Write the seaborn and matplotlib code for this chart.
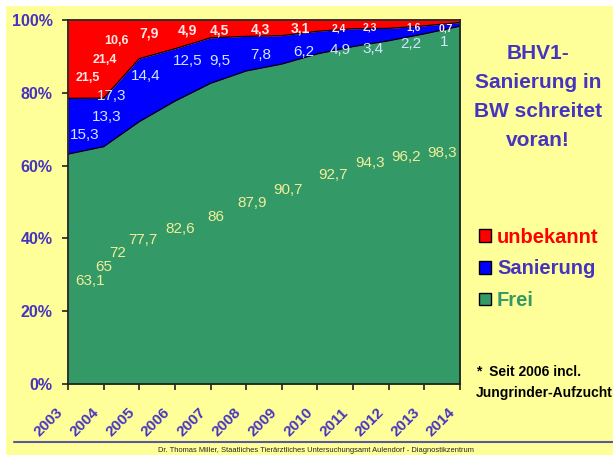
import numpy as np
import pandas as pd
import matplotlib
matplotlib.use("Agg")
import matplotlib.pyplot as plt
import matplotlib.transforms as mtransforms
import seaborn as sns
from matplotlib.patches import Rectangle, Patch
from matplotlib.lines import Line2D

# data (percent of herds)
years = [2003, 2004, 2005, 2006, 2007, 2008, 2009, 2010, 2011, 2012, 2013, 2014]
frei = [63.1, 65, 72, 77.7, 82.6, 86, 87.9, 90.7, 92.7, 94.3, 96.2, 98.3]
sanierung = [15.3, 13.3, 17.3, 14.4, 12.5, 9.5, 7.8, 6.2, 4.9, 3.4, 2.2, 1]
unbekannt = [21.5, 21.4, 10.6, 7.9, 4.9, 4.5, 4.3, 3.1, 2.4, 2.3, 1.6, 0.7]

# where the value labels sit (x in category units, y in percent)
frei_lab_x = [0.62, 1.01, 1.40, 2.10, 3.15, 4.16, 5.17, 6.18, 7.44, 8.48, 9.50, 10.50]
frei_lab_y = [28.4, 32.2, 36.0, 39.5, 42.7, 46.0, 49.6, 53.2, 57.3, 60.6, 62.3, 63.4]
san_lab_x = [0.48, 1.09, 1.23, 2.19, 3.36, 4.25, 5.42, 6.63, 7.64, 8.56, 9.63, 10.56]
san_lab_y = [68.3, 73.3, 79.0, 84.6, 88.7, 88.7, 90.4, 91.2, 91.7, 92.0, 93.4, 93.9]
unb_lab_x = [0.56, 1.04, 1.37, 2.28, 3.34, 4.25, 5.39, 6.52, 7.60, 8.48, 9.70, 10.60]
unb_lab_y = [84.0, 89.0, 94.2, 96.4, 97.2, 97.2, 97.5, 97.8, 97.8, 98.0, 98.0, 97.8]
unb_lab_size = [9, 9, 9, 10, 10, 10, 10, 10, 7.5, 7.5, 7.5, 7.5]

GREEN = "#339966"
BLUE = "#0000FF"
RED = "#FF0000"
INK = "#4634C0"
BG = "#FFFF99"

sns.set_style("ticks")
plt.rcParams["font.family"] = ["Liberation Sans", "DejaVu Sans"]

df = pd.DataFrame({"Jahr": years, "Frei": frei, "Sanierung": sanierung, "unbekannt": unbekannt})
total = df[["Frei", "Sanierung", "unbekannt"]].sum(axis=1)
df["c1"] = df["Frei"] / total * 100
df["c2"] = (df["Frei"] + df["Sanierung"]) / total * 100
df["c3"] = 100.0
df["x"] = np.arange(len(df))

fig = plt.figure(figsize=(6.13, 4.57), dpi=100, facecolor="white")
fig.patches.append(Rectangle((6 / 613, 2 / 457), 1, 1 - 8 / 457, transform=fig.transFigure,
                             facecolor=BG, edgecolor="none", zorder=-10))

ax = fig.add_axes([68 / 613, 1 - 384 / 457, 392 / 613, 364 / 457])
ax.fill_between(df["x"], 0, df["c1"], color=GREEN, lw=0)
ax.fill_between(df["x"], df["c1"], df["c2"], color=BLUE, lw=0)
ax.fill_between(df["x"], df["c2"], df["c3"], color=RED, lw=0)
sns.lineplot(data=df, x="x", y="c1", color="black", lw=0.9, ax=ax)
sns.lineplot(data=df, x="x", y="c2", color="black", lw=0.9, ax=ax)

ax.set_xlim(0, len(df) - 1)
ax.set_ylim(0, 100)
ax.set_xlabel("")
ax.set_ylabel("")
for s in ax.spines.values():
    s.set_visible(True)
    s.set_color("#222222")
    s.set_linewidth(1.3)

ax.set_yticks(range(0, 101, 20))
ax.set_yticklabels([f"{v}%" for v in range(0, 101, 20)], fontsize=11.5,
                   fontweight="bold", color=INK)
ax.set_xticks(df["x"])
ax.set_xticklabels([str(y) for y in years], fontsize=11, fontweight="bold", color=INK,
                   rotation=45, ha="right", va="center", rotation_mode="anchor")
ax.tick_params(axis="y", direction="out", length=4, width=1.2, color="#222222", pad=7)
ax.tick_params(axis="x", direction="out", length=4, width=1.2, color="#222222", pad=15)
shift = mtransforms.ScaledTranslation(-7 / 100, 0, fig.dpi_scale_trans)
for lab in ax.get_xticklabels():
    lab.set_transform(lab.get_transform() + shift)

# value labels
for v, lx, ly in zip(frei, frei_lab_x, frei_lab_y):
    ax.text(lx, ly, f"{v:g}".replace(".", ","), color="#F2EE9A", fontsize=11,
            ha="center", va="center")
for v, lx, ly in zip(sanierung, san_lab_x, san_lab_y):
    ax.text(lx, ly, f"{v:g}".replace(".", ","), color="#D2E6FF", fontsize=11,
            ha="center", va="center")
for v, lx, ly, fs in zip(unbekannt, unb_lab_x, unb_lab_y, unb_lab_size):
    ax.text(lx, ly, f"{v:g}".replace(".", ","), color="#FFE8E8", fontsize=fs,
            fontweight="bold", ha="center", va="center")

# title on the right
fig.text(538 / 613, 1 - 97 / 457, "BHV1-\nSanierung in\nBW schreitet\nvoran!",
         ha="center", va="center", fontsize=15, fontweight="bold", color=INK, linespacing=1.65)

# legend
handles = [Patch(facecolor=RED, edgecolor="black", lw=1),
           Patch(facecolor=BLUE, edgecolor="black", lw=1),
           Patch(facecolor=GREEN, edgecolor="black", lw=1)]
fig.legend(handles, ["unbekannt", "Sanierung", "Frei"], loc="center left",
           bbox_to_anchor=(479 / 613, 1 - 269 / 457), frameon=False,
           prop={"size": 14.5, "weight": "bold"}, labelcolor=[RED, INK, GREEN],
           handlelength=0.6, handleheight=0.6, handletextpad=0.3,
           labelspacing=0.63, borderpad=0, borderaxespad=0)

# footnote
fig.text(476 / 613, 1 - 365 / 457, "*  Seit 2006 incl.\nJungrinder-Aufzucht", ha="left", va="top",
         fontsize=10, fontweight="bold", color="black", linespacing=1.6)

# footer
fig.add_artist(Line2D([14 / 613, 1], [1 - 442 / 457] * 2, color="#5A5A9A", lw=1.5,
                      transform=fig.transFigure))
fig.text(316 / 613, 1 - 450 / 457,
         "Dr. Thomas Miller, Staatliches Tierärztliches Untersuchungsamt Aulendorf - Diagnostikzentrum",
         ha="center", va="center", fontsize=5.4, color="#222222")

fig.savefig("out.png", dpi=100, facecolor=fig.get_facecolor())
